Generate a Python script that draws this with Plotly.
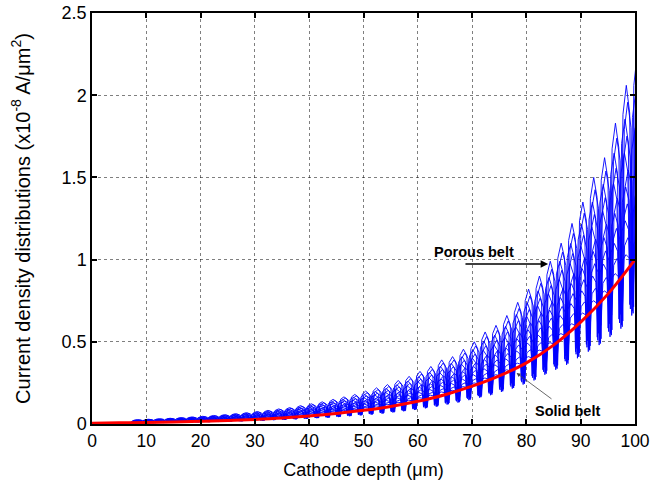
import plotly.graph_objects as go

# ---------------- data ----------------
# Solid belt (red curve), sampled every 5 um
solid_x = [0, 5, 10, 15, 20, 25, 30, 35, 40, 45, 50, 55, 60, 65, 70, 75, 80, 85, 90, 95, 100]
solid_y = [0.005, 0.007, 0.009, 0.012, 0.016, 0.021, 0.028, 0.037, 0.049, 0.064, 0.083,
           0.107, 0.138, 0.178, 0.230, 0.293, 0.372, 0.480, 0.620, 0.790, 1.000]

# Porous belt: oscillation crests (outermost line) and dips (deepest line), one per period
porous_crest_x = [8.4 + 2 * k for k in range(47)]
porous_crest_y = [0.026, 0.029, 0.032, 0.035, 0.039, 0.043, 0.047, 0.052, 0.057, 0.063,
                  0.069, 0.076, 0.083, 0.092, 0.100, 0.112, 0.123, 0.135, 0.150, 0.165,
                  0.180, 0.200, 0.220, 0.240, 0.265, 0.290, 0.320, 0.350, 0.390, 0.410,
                  0.455, 0.500, 0.560, 0.600, 0.660, 0.740, 0.820, 0.900, 0.990, 1.100,
                  1.220, 1.350, 1.500, 1.620, 1.830, 2.060, 2.250]
porous_dip_x = [7.4 + 2 * k for k in range(47)]
porous_dip_y = [0.004, 0.005, 0.006, 0.007, 0.008, 0.009, 0.010, 0.011, 0.012, 0.014,
                0.016, 0.018, 0.020, 0.023, 0.025, 0.028, 0.031, 0.035, 0.038, 0.042,
                0.047, 0.052, 0.057, 0.063, 0.070, 0.077, 0.085, 0.095, 0.105, 0.118,
                0.130, 0.145, 0.160, 0.175, 0.195, 0.215, 0.240, 0.265, 0.300, 0.330,
                0.360, 0.400, 0.440, 0.480, 0.530, 0.580, 0.660]

# individual porous-belt lines: crest scale, dip scale, shift along depth (um)
line_crest_scale = [1.00, 0.95, 0.90, 0.85, 0.80, 0.75, 0.70, 0.65, 0.60, 0.55, 0.50]
line_dip_scale = [1.00, 1.02, 1.06, 1.04, 1.10, 1.08, 1.15, 1.12, 1.20, 1.25, 1.30]
line_shift = [0.0, 0.25, -0.25, 0.12, -0.35, 0.35, -0.12, 0.18, -0.2, 0.3, -0.05]

x_ticks = [0, 10, 20, 30, 40, 50, 60, 70, 80, 90, 100]
y_ticks = [0, 0.5, 1, 1.5, 2, 2.5]
y_tick_text = ["0", "0.5", "1", "1.5", "2", "2.5"]

# ---------------- figure ----------------
FONT = "Liberation Sans, Arial, Helvetica, sans-serif"
fig = go.Figure()

SH_DX, SH_F = 0.62, 0.88  # lobe shoulder offset / height fraction (shape of the wave)
for cs, ds, sh in zip(line_crest_scale, line_dip_scale, line_shift):
    xs, ys = [], []
    n = len(porous_crest_x)
    for k in range(n):
        xt, yt = porous_dip_x[k] + sh, porous_dip_y[k] * ds
        xp, yp = porous_crest_x[k] + sh, porous_crest_y[k] * cs
        yp = max(yp, yt)
        xs += [xt, xp - SH_DX, xp]
        ys += [yt, yt + SH_F * (yp - yt), yp]
        if k + 1 < n:
            yt2 = porous_dip_y[k + 1] * ds
            xs.append(xp + SH_DX)
            ys.append(yt2 + SH_F * (yp - yt2))
    fig.add_trace(go.Scatter(x=xs, y=ys, mode="lines",
                             line=dict(color="#0000ff", width=0.9),
                             showlegend=False, hoverinfo="skip"))

fig.add_trace(go.Scatter(x=solid_x, y=solid_y, mode="lines",
                         line=dict(color="#ff0000", width=3, shape="spline"),
                         showlegend=False))

axis_common = dict(
    showline=True, linecolor="black", linewidth=1.5, mirror="allticks",
    ticks="inside", ticklen=5, tickwidth=1.5, tickcolor="black",
    showgrid=True, gridcolor="rgba(0,0,0,0.5)", gridwidth=1, griddash="dot",
    zeroline=False, automargin=False,
)

fig.update_xaxes(range=[0, 100], tickvals=x_ticks, ticktext=[str(v) for v in x_ticks],
                 ticklabeloverflow="allow",
                 tickfont=dict(family=FONT, size=17.5, color="black"),
                 title=dict(text="Cathode depth (\u03bcm)", font=dict(family=FONT, size=18, color="black"),
                            standoff=14),
                 **axis_common)
fig.update_yaxes(range=[0, 2.5], tickvals=y_ticks, ticktext=y_tick_text,
                 tickfont=dict(family=FONT, size=18, color="black"),
                 title=dict(text="Current density distributions (x10<sup>-8</sup> A/\u03bcm<sup>2</sup>)",
                            font=dict(family=FONT, size=20, color="black"), standoff=26),
                 **axis_common)

# annotations
fig.add_annotation(x=70.4, y=1.045, xref="x", yref="y", text="<b>Porous belt</b>",
                   showarrow=False, font=dict(family=FONT, size=14.5, color="black"))
fig.add_annotation(x=84.0, y=0.973, ax=68.5, ay=0.973, xref="x", yref="y",
                   axref="x", ayref="y", text="", showarrow=True,
                   arrowhead=2, arrowsize=1, arrowwidth=1.5, arrowcolor="black")
fig.add_annotation(x=87.6, y=0.08, xref="x", yref="y", text="<b>Solid belt</b>",
                   showarrow=False, font=dict(family=FONT, size=14.5, color="black"))
fig.add_annotation(x=78.2, y=0.31, ax=84.9, ay=0.146, xref="x", yref="y",
                   axref="x", ayref="y", text="", showarrow=True,
                   arrowhead=2, arrowsize=1, arrowwidth=0.8, arrowcolor="#444")

fig.update_layout(
    width=650, height=485,
    margin=dict(l=92, r=15, t=13, b=61),
    paper_bgcolor="white", plot_bgcolor="white",
    font=dict(family=FONT, color="black"),
)

fig.write_html("out.html")
